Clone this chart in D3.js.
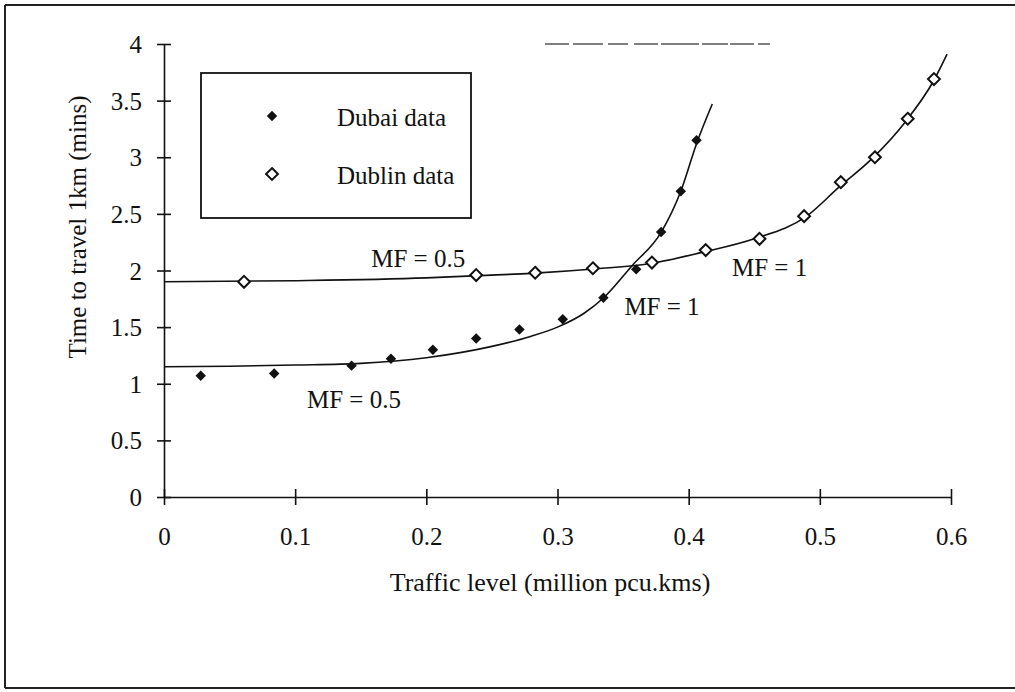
<!DOCTYPE html>
<html>
<head>
<meta charset="utf-8">
<script src="https://cdn.jsdelivr.net/npm/d3@7"></script>
<style>
	body { margin: 0; background: #fff; }
	svg text { font-family: "Liberation Serif", "Times New Roman", serif; fill: #111; }
</style>
</head>
<body>
<svg id="chart" width="1015" height="692"></svg>
<script>
(function (d3) {
	"use strict";

	/***** Data *****/

	// Dubai observations (filled diamonds)
	var dubaiX = [0.028, 0.084, 0.143, 0.173, 0.205, 0.238, 0.271, 0.304, 0.335, 0.360, 0.379, 0.394, 0.406];
	var dubaiY = [1.07, 1.09, 1.16, 1.22, 1.30, 1.40, 1.48, 1.57, 1.76, 2.01, 2.34, 2.70, 3.15];

	// Dublin observations (open diamonds)
	var dublinX = [0.061, 0.238, 0.283, 0.327, 0.372, 0.413, 0.454, 0.488, 0.516, 0.542, 0.567, 0.587];
	var dublinY = [1.90, 1.96, 1.98, 2.02, 2.07, 2.18, 2.28, 2.48, 2.78, 3.00, 3.34, 3.69];

	// fitted curves
	var dubaiFitX = [0, 0.05, 0.1, 0.15, 0.2, 0.25, 0.28, 0.3, 0.32, 0.335, 0.357, 0.379, 0.394, 0.406, 0.418];
	var dubaiFitY = [1.15, 1.155, 1.165, 1.18, 1.23, 1.33, 1.42, 1.50, 1.62, 1.757, 2.045, 2.337, 2.70, 3.12, 3.47];

	var dublinFitX = [0, 0.1, 0.2, 0.24, 0.28, 0.33, 0.37, 0.41, 0.45, 0.49, 0.515, 0.54, 0.565, 0.587, 0.597];
	var dublinFitY = [1.90, 1.91, 1.935, 1.955, 1.975, 2.015, 2.06, 2.16, 2.28, 2.48, 2.74, 2.99, 3.31, 3.68, 3.91];

	// tick labels
	var xTicks = [0, 0.1, 0.2, 0.3, 0.4, 0.5, 0.6];
	var yTicks = [0, 0.5, 1, 1.5, 2, 2.5, 3, 3.5, 4];

	// legend + annotations
	var legendLabels = ["Dubai data", "Dublin data"];
	var notes = [
		{text: "MF = 0.5", x: 0.158, y: 2.03},
		{text: "MF = 0.5", x: 0.109, y: 0.785},
		{text: "MF = 1", x: 0.351, y: 1.605},
		{text: "MF = 1", x: 0.433, y: 1.949}
	];

	/***** Layout *****/
	var svg = d3.select("#chart");
	const left = 164, right = 951, top = 44, bottom = 497;
	const fontSize = 25;

	var x = d3.scaleLinear().domain([0, 0.6]).range([left, right]);
	var y = d3.scaleLinear().domain([0, 4]).range([bottom, top]);

	function zip(xs, ys) {
		return xs.map(function (v, i) { return [v, ys[i]]; });
	}

	/***** Frame around the figure *****/
	var frame = svg.append("g").attr("stroke", "#222").attr("stroke-width", 2);
	frame.append("line").attr("x1", 5).attr("y1", 5).attr("x2", 1015).attr("y2", 5);
	frame.append("line").attr("x1", 5).attr("y1", 5).attr("x2", 5).attr("y2", 688);
	frame.append("line").attr("x1", 5).attr("y1", 688).attr("x2", 1015).attr("y2", 688);

	// faint broken line near the top (scan leftover)
	svg.append("line")
		.attr("x1", 545).attr("x2", 770).attr("y1", 44).attr("y2", 44)
		.attr("stroke", "#555").attr("stroke-width", 1.3)
		.attr("stroke-dasharray", "24,4,30,5,20,6,24,3,38,3,26,2");

	/***** Axes *****/
	var fmt = function (d) { return String(+d.toFixed(1)); };

	var xAxis = svg.append("g")
		.attr("transform", "translate(0," + bottom + ")")
		.call(d3.axisBottom(x).tickValues(xTicks).tickFormat(fmt).tickSize(8).tickSizeOuter(0).tickPadding(22));

	var yAxis = svg.append("g")
		.attr("transform", "translate(" + left + ",0)")
		.call(d3.axisLeft(y).tickValues(yTicks).tickFormat(fmt).tickSize(7).tickSizeOuter(0).tickPadding(15));

	// ticks cross the axis line
	xAxis.selectAll(".tick line").attr("y1", -8).attr("y2", 8);
	yAxis.selectAll(".tick line").attr("x1", -7).attr("x2", 7);
	[xAxis, yAxis].forEach(function (a) {
		a.selectAll("path, line").attr("stroke", "#111").attr("stroke-width", 1.6);
		a.selectAll("text").attr("font-size", fontSize).attr("font-family", null);
	});
	yAxis.selectAll("text").attr("dy", "0.34em");

	svg.append("text")
		.attr("x", 550).attr("y", 591)
		.attr("text-anchor", "middle")
		.attr("font-size", 26)
		.text("Traffic level (million pcu.kms)");

	svg.append("text")
		.attr("transform", "translate(86,227) rotate(-90)")
		.attr("text-anchor", "middle")
		.attr("font-size", fontSize)
		.text("Time to travel 1km (mins)");

	/***** Fitted curves *****/
	var line = d3.line()
		.x(function (d) { return x(d[0]); })
		.y(function (d) { return y(d[1]); })
		.curve(d3.curveMonotoneX);

	[zip(dubaiFitX, dubaiFitY), zip(dublinFitX, dublinFitY)].forEach(function (pts) {
		svg.append("path")
			.attr("d", line(pts))
			.attr("fill", "none")
			.attr("stroke", "#111")
			.attr("stroke-width", 1.6);
	});

	/***** Markers *****/
	var filled = d3.symbol().type(d3.symbolDiamond2).size(70);
	var open = d3.symbol().type(d3.symbolDiamond2).size(90);

	svg.append("g").selectAll("path")
		.data(zip(dublinX, dublinY))
		.join("path")
		.attr("transform", function (d) { return "translate(" + x(d[0]) + "," + y(d[1]) + ")"; })
		.attr("d", open)
		.attr("fill", "#fff").attr("stroke", "#111").attr("stroke-width", 2);

	svg.append("g").selectAll("path")
		.data(zip(dubaiX, dubaiY))
		.join("path")
		.attr("transform", function (d) { return "translate(" + x(d[0]) + "," + y(d[1]) + ")"; })
		.attr("d", filled)
		.attr("fill", "#111");

	/***** Annotations *****/
	svg.append("g").selectAll("text")
		.data(notes)
		.join("text")
		.attr("x", function (d) { return x(d.x); })
		.attr("y", function (d) { return y(d.y); })
		.attr("font-size", fontSize)
		.text(function (d) { return d.text; });

	/***** Legend *****/
	var legend = svg.append("g");
	legend.append("rect")
		.attr("x", 201).attr("y", 73).attr("width", 270).attr("height", 145)
		.attr("fill", "#fff").attr("stroke", "#111").attr("stroke-width", 1.8);

	var rows = legend.selectAll("g.row")
		.data(legendLabels)
		.join("g")
		.attr("class", "row")
		.attr("transform", function (d, i) { return "translate(0," + (i * 58) + ")"; });

	rows.append("path")
		.attr("transform", "translate(272,116)")
		.attr("d", function (d, i) { return i === 0 ? filled() : open(); })
		.attr("fill", function (d, i) { return i === 0 ? "#111" : "#fff"; })
		.attr("stroke", function (d, i) { return i === 0 ? "none" : "#111"; })
		.attr("stroke-width", 2);

	rows.append("text")
		.attr("x", 337).attr("y", 126)
		.attr("font-size", fontSize)
		.text(function (d) { return d; });

})(d3);
</script>
</body>
</html>
